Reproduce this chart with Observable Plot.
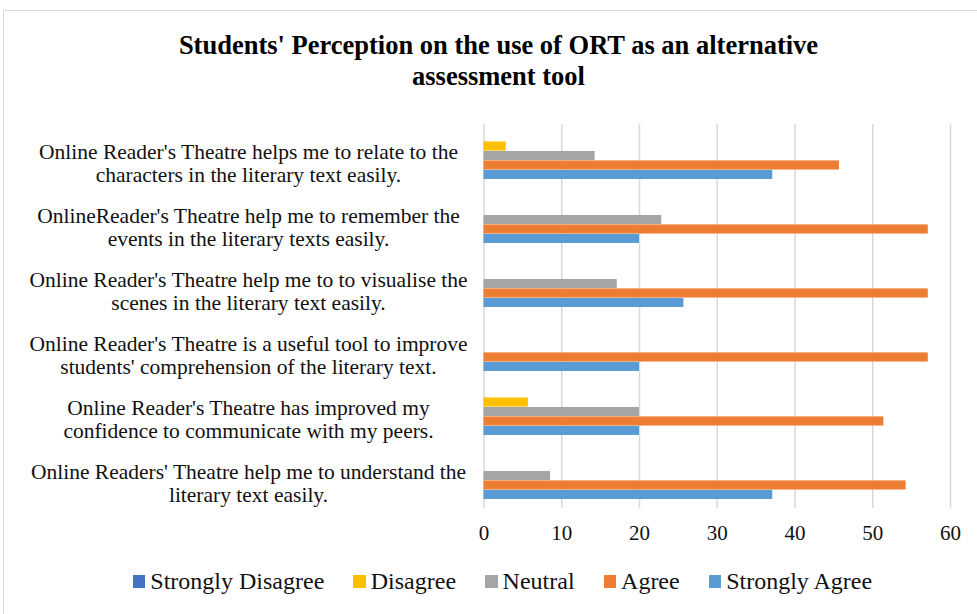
<!DOCTYPE html>
<html>
<head>
<meta charset="utf-8">
<script src="https://cdn.jsdelivr.net/npm/d3@7"></script>
<script src="https://cdn.jsdelivr.net/npm/@observablehq/plot@0.6"></script>
<style>
  html, body { margin: 0; padding: 0; background: #fff; }
  body { width: 977px; height: 614px; position: relative; overflow: hidden; font-family: "Liberation Serif", "Times New Roman", serif; }
  #frame { position: absolute; left: 3px; top: 10px; width: 990px; height: 620px; border: 1px solid #d9d9d9; box-sizing: border-box; }
  #title { position: absolute; left: 0; top: 29.5px; width: 997px; text-align: center; font-weight: bold; font-size: 26.5px; line-height: 31px; color: #000; }
  #chart { position: absolute; left: 0; top: 100px; }
  #legend { position: absolute; left: 0; top: 568px; width: 1005px; display: flex; justify-content: center; gap: 29px; font-size: 24px; color: #111; }
  .item { display: flex; align-items: center; gap: 5px; }
  .sw { width: 12.5px; height: 12.5px; display: inline-block; }
</style>
</head>
<body>
<div id="frame"></div>
<div id="title">Students' Perception on the use of ORT as an alternative<br>assessment tool</div>
<div id="chart"></div>
<div id="legend"></div>
<script>
const categories = [
  "Online Reader's Theatre helps me to relate to the\ncharacters in the literary text easily.",
  "OnlineReader's Theatre help me to remember the\nevents in the literary texts easily.",
  "Online Reader's Theatre help me to to visualise the\nscenes in the literary text easily.",
  "Online Reader's Theatre is a useful tool to improve\nstudents' comprehension of the literary text.",
  "Online Reader's Theatre has improved my\nconfidence to communicate with my peers.",
  "Online Readers' Theatre help me to understand the\nliterary text easily."
];
const series = ["Strongly Disagree", "Disagree", "Neutral", "Agree", "Strongly Agree"];
const colors = ["#4472C4", "#FFC000", "#A5A5A5", "#ED7D31", "#5B9BD5"];
const stronglyDisagree = [0, 0, 0, 0, 0, 0];
const disagree = [2.86, 0, 0, 0, 5.71, 0];
const neutral = [14.29, 22.86, 17.14, 0, 20, 8.57];
const agree = [45.71, 57.14, 57.14, 57.14, 51.43, 54.29];
const stronglyAgree = [37.14, 20, 25.71, 20, 20, 37.14];
const xTicks = [0, 10, 20, 30, 40, 50, 60];

const values = [stronglyDisagree, disagree, neutral, agree, stronglyAgree];

const plotHeight = 384;
const marginTop = 24;
const marginBottom = 42;
const paddingInner = 0.26, paddingOuter = 0.13;
const step = plotHeight / (categories.length - paddingInner + 2 * paddingOuter);
const bandwidth = step * (1 - paddingInner);
const barH = bandwidth / series.length;

const barMarks = series.map((s, i) => Plot.barX(
  categories.map((c, j) => ({category: c, value: values[i][j]})).filter(d => d.value > 0),
  {
    y: "category", x: "value", fill: colors[i],
    insetTop: i * barH, insetBottom: (series.length - 1 - i) * barH
  }
));

const chart = Plot.plot({
  width: 977,
  height: marginTop + plotHeight + marginBottom,
  marginLeft: 483.5,
  marginRight: 27,
  marginTop,
  marginBottom,
  style: {fontFamily: "'Liberation Serif', 'Times New Roman', serif", background: "transparent"},
  x: {domain: [0, 60], ticks: xTicks, label: null},
  y: {domain: categories, paddingInner, paddingOuter, axis: null, label: null},
  marks: [
    Plot.gridX(xTicks, {stroke: "#d9d9d9", strokeOpacity: 1, strokeWidth: 1.5}),
    ...barMarks,
    Plot.axisX({ticks: xTicks, tickSize: 0, tickPadding: 17, fontSize: 21, fill: "#111", label: null}),
    Plot.text(categories, {
      y: d => d, text: d => d, frameAnchor: "left", dx: -235.5, dy: 7.5,
      textAnchor: "middle", fontSize: 21.5, lineHeight: 1.07, fill: "#111"
    })
  ]
});
document.getElementById("chart").appendChild(chart);

const legend = document.getElementById("legend");
series.forEach((s, i) => {
  const it = document.createElement("div");
  it.className = "item";
  const sw = document.createElement("span");
  sw.className = "sw";
  sw.style.background = colors[i];
  const t = document.createElement("span");
  t.textContent = s;
  it.appendChild(sw);
  it.appendChild(t);
  legend.appendChild(it);
});
</script>
</body>
</html>
